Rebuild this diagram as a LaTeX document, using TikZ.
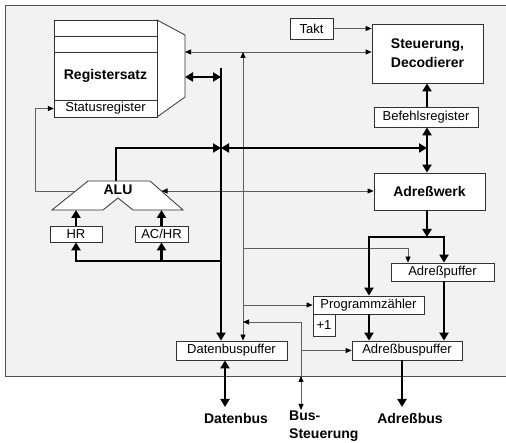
\documentclass[tikz,border=0pt]{standalone}
\usepackage{fontspec}
\setmainfont{Liberation Sans}
\usetikzlibrary{arrows.meta}
\definecolor{panelfill}{RGB}{242,242,242}
\definecolor{panelc}{RGB}{80,80,80}
\definecolor{boxc}{RGB}{50,50,50}
\definecolor{linec}{RGB}{95,95,95}
\tikzset{
  tk/.tip={Triangle[length=8pt,width=9pt]},
  tn/.tip={Triangle[length=6pt,width=5pt,color=black]},
  box/.style={draw=boxc, fill=white, line width=0.8pt, inner sep=0pt, font=\fontsize{13}{15}\selectfont},
  bbox/.style={box, font=\fontsize{14}{17}\selectfont\bfseries, align=center},
  plain/.style={inner sep=0pt, font=\fontsize{13}{15}\selectfont},
  blabel/.style={inner sep=0pt, font=\fontsize{14}{17}\selectfont\bfseries},
  thk/.style={line width=2.5pt, black, line join=miter},
  thn/.style={line width=0.8pt, linec},
}
\begin{document}
\begin{tikzpicture}[x=1pt,y=-1pt]
\useasboundingbox (0,0) rectangle (506,443);
% panel
\draw[draw=panelc, fill=panelfill, line width=0.9pt] (5,5) rectangle (510,376);

% Registersatz with trapezoid
\draw[boxc, fill=white, line width=0.8pt] (157,20) -- (185,35) -- (185,97) -- (157,117) -- cycle;
\node[box, minimum width=103pt, minimum height=97pt] (reg) at (105.5,68.5) {};
\draw[boxc, line width=0.8pt] (54,36) -- (157,36) (54,52) -- (157,52) (54,100) -- (157,100);
\node[blabel] (regt) at (105.5,76) {Registersatz};
\node[plain, minimum width=103pt, minimum height=17pt] (status) at (105.5,108.5) {Statusregister};
\coordinate (trR) at (185,52);
\coordinate (trM) at (185,77);

% boxes
\node[box, minimum width=43pt, minimum height=21pt] (takt) at (311.5,28.5) {Takt};
\node[bbox, minimum width=111pt, minimum height=59pt] (steu) at (427.5,53.5) {Steuerung,\\[2pt]Decodierer};
\node[box, minimum width=104pt, minimum height=20pt] (befehl) at (426,117) {Befehlsregister};
\node[bbox, minimum width=111pt, minimum height=37pt] (adrw) at (429.5,191.5) {Adreßwerk};
\node[box, minimum width=103pt, minimum height=18pt] (adrp) at (442.5,272) {Adreßpuffer};
\node[box, minimum width=111pt, minimum height=18pt] (pz) at (368.5,305) {Programmzähler};
\node[box, minimum width=22pt, minimum height=22pt] (plus) at (324,325) {+1};
\node[box, minimum width=111pt, minimum height=19pt] (dbp) at (231.5,350.5) {Datenbuspuffer};
\node[box, minimum width=110pt, minimum height=19pt] (abp) at (407,350.5) {Adreßbuspuffer};
\node[box, minimum width=52pt, minimum height=16pt] (hr) at (76,234) {HR};
\node[box, minimum width=53pt, minimum height=16pt] (achr) at (161.5,234) {AC/HR};

% ALU
\draw[boxc, fill=white, line width=0.8pt] (88,181) -- (150,181) -- (183,210) -- (133,210) -- (118,198) -- (103,210) -- (52,210) -- cycle;
\node[blabel] (alu) at (118,190) {ALU};
\coordinate (aluT) at (116,181);
\coordinate (aluR) at (161.5,191);
\coordinate (aluL) at (75.5,191);
\coordinate (aluB1) at (76,210);
\coordinate (aluB2) at (161.5,210);

% bottom labels
\node[blabel] (datenbus) at (236,418) {Datenbus};
\node[blabel, anchor=west, align=left] (bussteu) at (289,426) {Bus-\\[1pt]Steuerung};
\node[blabel] (adrbus) at (410,418) {Adreßbus};

% coordinates
\coordinate (bx) at (221,68);
\coordinate (hb) at (221,148);
\coordinate (bj) at (427,148);
\coordinate (cv) at (243,52);
\coordinate (hj) at (221,261);
\coordinate (ajL) at (369,237);
\coordinate (ajR) at (444,237);
\coordinate (apj) at (408,248);
\coordinate (bs) at (301,322);
\coordinate (bsb) at (301,410);
\coordinate (bsm) at (301,376);
\coordinate (dbx) at (225,407);
\coordinate (abx) at (402,407);

% thin connectors
\draw[thn,-tn] (takt.east) -- (takt.east -| steu.west);
\draw[thn,tn-tn] (trR) -- (trR -| steu.west);
\draw[thn,tn-tn] (cv |- dbp.north) -- (cv);
\draw[thn,tn-tn] (aluR) -- (aluR -| adrw.west);
\draw[thn,-tn] (aluL) -- (35,191) |- (status.west);
\draw[thn,-tn] (cv |- apj) -| (apj |- adrp.north);
\draw[thn,-tn] (cv |- pz.west) -- (pz.west);
\draw[thn,tn-tn] (cv |- bs) -- (bs) -- (bsb);
\draw[thn,-tn] (301,392) -- (bsm);
\draw[thn,-tn] (bs |- abp.west) -- (abp.west);

% thick connectors
\draw[thk,tk-tk] (trM) -- (trM -| bx);
\draw[thk,-tk] (bx) -- (bx |- dbp.north);
\draw[thk,tk-tk] (hb) -- (bj);
\draw[thk,-tk] (bj) -- (bj |- befehl.south);
\draw[thk,-tk] (bj) -- (bj |- adrw.north);
\draw[thk,-tk] (befehl.north -| bj) -- (steu.south -| bj);
\draw[thk,-tk] (aluT) |- (hb);
\draw[thk,-tk] (hr.north) -- (aluB1);
\draw[thk,-tk] (achr.north) -- (aluB2);
\draw[thk,-tk] (hj) -| (hr.south);
\draw[thk,-tk] (achr.south |- hj) -- (achr.south);
\draw[thk,-tk] (adrw.south -| bj) -- (bj |- ajL);
\draw[thk,-tk] (ajR) -- (ajL) -- (ajL |- pz.north);
\draw[thk,-tk] (ajL) -- (ajR) -- (ajR |- adrp.north);
\draw[thk,-tk] (ajL |- pz.south) -- (ajL |- abp.north);
\draw[thk,-tk] (ajR |- adrp.south) -- (ajR |- abp.north);
\draw[thk,-tk] (abx |- abp.south) -- (abx);
\draw[thk,tk-tk] (dbx |- dbp.south) -- (dbx);
\end{tikzpicture}
\end{document}
